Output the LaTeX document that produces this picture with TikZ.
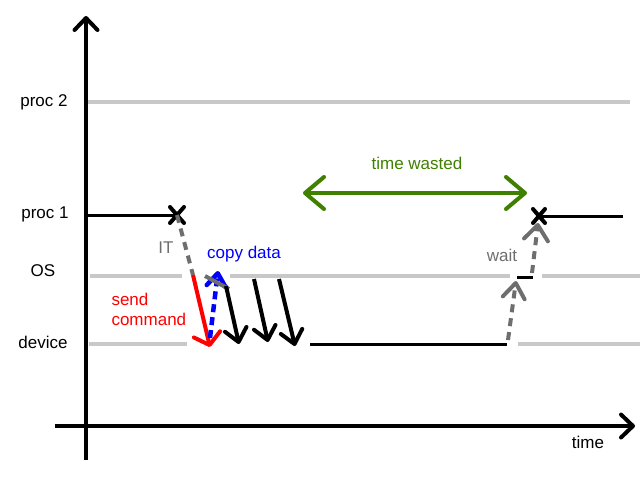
\documentclass[tikz,border=0pt]{standalone}
\usepackage{fontspec}
\setmainfont{Liberation Sans}
\usepackage{xcolor}
\usetikzlibrary{arrows.meta}
\usetikzlibrary{calc}

\definecolor{lanegrey}{RGB}{200,200,200}
\definecolor{itgrey}{RGB}{110,110,110}
\definecolor{wastegreen}{RGB}{64,128,0}

\tikzset{
    axis/.style = {line width = 4pt, -{Straight Barb[round, length = 12pt, width = 23pt]}},
    lane/.style = {line width = 4pt, color = lanegrey},
    busy/.style = {line width = 3pt, black},
    chev/.style = {-{Straight Barb[round, length = 13pt, width = 22pt]}},
    irq/.style = {line width = 4pt, color = itgrey, dash pattern = on 8pt off 6pt},
    lbl/.style = {font = \fontsize{17}{20}\selectfont}
}

\begin{document}
\begin{tikzpicture}[x = 1pt, y = -1pt]
                \useasboundingbox (0, 0) rectangle (640, 480);

                % axes
                \coordinate (ybot) at (86, 460);
                \coordinate (ytop) at (86, 16);
                \coordinate (xleft) at (55, 426);
                \coordinate (xright) at (635, 426);
                \draw[axis] (ybot) -- (ytop);
                \draw[axis] (xleft) -- (xright);

                % lanes
                \coordinate (p2a) at (88, 102);
                \coordinate (p2b) at (630, 102);
                \coordinate (osa) at (90, 276);
                \coordinate (osb) at (182, 276);
                \coordinate (osc) at (230, 276);
                \coordinate (osd) at (510, 276);
                \coordinate (ose) at (542, 276);
                \coordinate (osf) at (640, 276);
                \coordinate (dva) at (89, 344);
                \coordinate (dvb) at (187, 344);
                \coordinate (dvc) at (518, 344);
                \coordinate (dvd) at (640, 344);
                \draw[lane] (p2a) -- (p2b);
                \draw[lane] (osa) -- (osb);
                \draw[lane] (osc) -- (osd);
                \draw[lane] (ose) -- (osf);
                \draw[lane] (dva) -- (dvb);
                \draw[lane] (dvc) -- (dvd);

                % busy parts
                \coordinate (p1a) at (86, 215);
                \coordinate (xa) at (177, 215);
                \coordinate (xb) at (539, 216);
                \coordinate (p1b) at (623, 216);
                \coordinate (dwa) at (310, 344);
                \coordinate (dwb) at (507, 344);
                \coordinate (owa) at (517, 277);
                \coordinate (owb) at (533, 277);
                \draw[busy] (p1a) -- (xa);
                \draw[busy] (xb) -- (p1b);
                \draw[busy] (dwa) -- (dwb);
                \draw[busy] (owa) -- (owb);
                \draw[line width = 4pt, line cap = round]
                    ($(xa) + (-7, -8)$) -- ($(xa) + (7, 8)$)
                    ($(xa) + (-7, 8)$) -- ($(xa) + (7, -8)$);
                \draw[line width = 4pt, line cap = round]
                    ($(xb) + (-6, -7)$) -- ($(xb) + (6, 7)$)
                    ($(xb) + (-6, 7)$) -- ($(xb) + (6, -7)$);

                % interrupt and command
                \coordinate (sc) at (193, 275);
                \coordinate (sd) at (210, 347);
                \draw[irq] (xa) -- (sc);
                \draw[line width = 4pt, red, -{Straight Barb[round, length = 11pt, width = 27pt]}] (sc) -- (sd);

                % copy data
                \coordinate (cd) at (210, 338);
                \coordinate (cu) at (218, 271);
                \draw[line width = 4.5pt, blue, dash pattern = on 8pt off 5pt,
                    -{Straight Barb[round, length = 13pt, width = 19pt]}] (cd) -- (cu);

                % transfers
                \coordinate (ga) at (205, 276);
                \coordinate (gb) at (229, 289);
                \draw[line width = 4pt, color = itgrey] (ga) -- (gb);
                \coordinate (ta1) at (226, 286);
                \coordinate (tb1) at (239, 344);
                \coordinate (ta2) at (254, 279);
                \coordinate (tb2) at (268, 342);
                \coordinate (ta3) at (279, 279);
                \coordinate (tb3) at (295, 346);
                \draw[line width = 4pt, chev] (ta1) -- (tb1);
                \draw[line width = 4pt, chev] (ta2) -- (tb2);
                \draw[line width = 4pt, chev] (ta3) -- (tb3);

                % wake up
                \coordinate (wa) at (508, 340);
                \coordinate (wb) at (516, 281);
                \coordinate (wc) at (532, 273);
                \coordinate (wd) at (538, 223);
                \draw[irq, -{Straight Barb[round, length = 15pt, width = 22pt]}] (wa) -- (wb);
                \draw[irq, -{Straight Barb[round, length = 15pt, width = 24pt]}] (wc) -- (wd);

                % time wasted
                \coordinate (gl) at (303, 193);
                \coordinate (gr) at (527, 193);
                \draw[line width = 4pt, color = wastegreen,
                    {Straight Barb[round, length = 19pt, width = 32pt]}-{Straight Barb[round, length = 19pt, width = 32pt]}] (gl) -- (gr);

                % labels
                \node[lbl] (lproc2) at (44, 102) {proc 2};
                \node[lbl] (lproc1) at (45, 214) {proc 1};
                \node[lbl] (los) at (43, 271) {OS};
                \node[lbl] (ldev) at (43, 342) {device};
                \node[lbl, text = itgrey] (lit) at (166, 248) {IT};
                \node[lbl, text = blue] (lcopy) at (244, 254) {copy data};
                \node[lbl, text = red, align = left, anchor = west] (lsend) at (108, 309) {send\\command};
                \node[lbl, text = itgrey] (lwait) at (502, 255) {wait};
                \node[lbl, text = wastegreen] (lwaste) at (417, 163) {time wasted};
                \node[lbl] (ltime) at (588, 442) {time};
\end{tikzpicture}
\end{document}
